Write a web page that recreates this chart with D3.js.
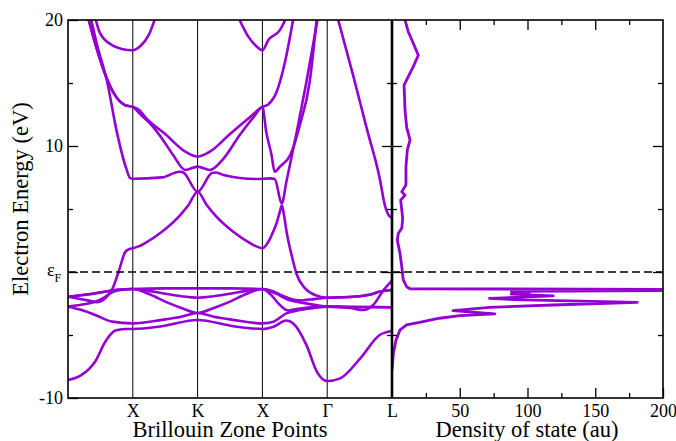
<!DOCTYPE html>
<html>
<head>
<meta charset="utf-8">
<script src="https://cdn.jsdelivr.net/npm/d3@7"></script>
<style>
  body { margin: 0; background: #fff; }
  svg { display: block; }
  svg text { font-family: "Liberation Serif", "DejaVu Serif", Times, serif !important; fill: #000; }
</style>
</head>
<body>
<svg id="chart" width="676" height="441"></svg>
<script>
// High-symmetry points along the k-path (path coordinate 0..5)
const kTicks = [1, 2, 3, 4, 5];
const kLabels = ["X", "K", "X", "Γ", "L"];
const kGrid = [1, 2, 3, 4];

// Energy axis (eV); 0 is the Fermi level
const energyMajor = [20, 10, 0, -10];
const energyMinor = [15, 5, -5];

// DOS axis
const dosMajor = [50, 100, 150, 200];
const dosMinor = [25, 75, 125, 175];

// Band energies, [k, E] pairs
const band1 = [[0,-8.57],[0.21,-8.17],[0.42,-7.1],[0.58,-5.5],[0.73,-4.65],[0.88,-4.52],[1,-4.52],[1.45,-4.3],[2,-3.81],[2.55,-4.3],[3,-4.52],[3.17,-4.34],[3.37,-3.85],[3.48,-4.1],[3.68,-5.8],[3.84,-7.9],[4,-8.65],[4.2,-8.44],[4.51,-6.85],[4.81,-5.0],[5,-4.68]];
const band2 = [[0,-2.75],[0.2,-3.0],[0.42,-3.41],[0.68,-3.94],[1,-4.08],[1.45,-3.8],[1.75,-3.55],[2,-3.25],[2.25,-3.55],[2.55,-3.8],[3,-4.08],[3.17,-3.94],[3.37,-3.28],[3.58,-3.02],[3.8,-2.85],[4,-2.75],[4.35,-2.85],[4.56,-3.02],[4.71,-2.62],[4.87,-1.43],[5,-0.68]];
const band3 = [[0,-2.75],[0.2,-2.6],[0.42,-2.36],[0.55,-2.05],[0.68,-1.61],[0.85,-1.4],[1,-1.35],[1.25,-1.75],[1.5,-2.35],[1.75,-2.85],[2,-3.25],[2.25,-2.85],[2.5,-2.35],[2.75,-1.75],[3,-1.35],[3.12,-1.75],[3.27,-2.62],[3.4,-3.05],[3.58,-2.9],[3.8,-2.78],[4,-2.75],[4.5,-2.78],[5,-2.8]];
const band4 = [[0,-1.96],[0.42,-1.69],[0.7,-1.45],[1,-1.35],[1.25,-1.5],[1.5,-1.72],[1.75,-1.92],[2,-2.04],[2.25,-1.92],[2.5,-1.72],[2.75,-1.5],[3,-1.35],[3.2,-1.7],[3.4,-2.2],[3.63,-2.45],[3.85,-2.65],[4,-2.75],[4.5,-2.78],[5,-2.8]];
const band5 = [[0,-1.96],[0.42,-1.7],[0.7,-1.45],[1,-1.35],[1.5,-1.3],[2,-1.3],[2.5,-1.3],[3,-1.35],[3.15,-1.5],[3.32,-1.9],[3.55,-2.25],[3.8,-2.15],[4,-2.04],[4.4,-1.97],[4.65,-1.8],[4.82,-1.55],[5,-1.43]];
const band6 = [[0,-1.96],[0.15,-2.1],[0.3,-2.25],[0.45,-2.4],[0.52,-2.3],[0.58,-2.05],[0.68,-1.4],[0.78,0.0],[0.885,1.6],[0.95,1.82],[1,1.88],[1.1,2.05],[1.19,2.3],[1.45,3.2],[1.71,4.4],[1.86,5.32],[2,6.37],[2.14,5.32],[2.29,4.4],[2.55,3.2],[2.81,2.3],[2.9,2.05],[3,1.88],[3.08,2.3],[3.15,3.0],[3.22,3.9],[3.27,4.8],[3.3,5.3],[3.33,4.6],[3.38,3.0],[3.45,1.35],[3.53,-0.2],[3.66,-1.3],[3.81,-1.83],[4,-2.04],[4.4,-1.97],[4.65,-1.8],[4.82,-1.55],[5,-1.43]];
const band7 = [[0.35,20.2],[0.45,18.0],[0.6,15.2],[0.75,11.2],[0.9,8.2],[0.96,7.45],[1,7.4],[1.45,7.51],[1.72,7.96],[1.78,7.9],[2,6.37],[2.22,7.85],[2.28,7.9],[2.4,7.7],[2.91,7.38],[3.12,7.43],[3.19,7.38],[3.3,5.45],[3.37,7.17],[3.53,11.1],[3.68,15.1],[3.86,20.3]];
const band8 = [[0.31,20.2],[0.45,17.6],[0.58,15.6],[0.73,14.0],[0.88,13.25],[1,13.1],[1.1,12.6],[1.3,11.6],[1.45,10.6],[1.62,9.3],[1.81,8.1],[2,8.36],[2.19,8.1],[2.4,9.0],[2.65,10.87],[2.89,12.46],[3,13.1],[3.06,11.1],[3.14,9.3],[3.19,7.96],[3.27,8.36],[3.43,9.29],[3.58,11.7],[3.73,15.1],[3.84,20.2]];
const band9 = [[0.31,20.2],[0.45,17.6],[0.58,15.6],[0.73,14.0],[0.88,13.25],[1,13.1],[1.1,12.86],[1.19,12.3],[1.5,10.95],[1.81,9.55],[2,9.15],[2.19,9.55],[2.5,10.95],[2.81,12.3],[3,13.1],[3.09,13.3],[3.22,14.3],[3.35,16.7],[3.48,20.2]];
const band10 = [[0.42,20.2],[0.49,19.0],[0.68,18.0],[0.83,17.7],[1,17.6],[1.11,17.9],[1.245,18.8],[1.35,20.2]];
const band11 = [[2.63,20.2],[2.78,18.7],[2.91,17.9],[3,17.6],[3.09,18.4],[3.27,19.2],[3.37,20.2]];
const band12 = [[4.16,20.2],[4.4,15.6],[4.61,11.4],[4.81,7.44],[4.89,5.3],[4.95,4.5],[5,4.3]];
const bands = [band1, band2, band3, band4, band5, band6, band7, band8, band9, band10, band11, band12];

// Density of states: energy (eV) and value (au)
const dosEnergy = [20.0, 19.07, 18.15, 17.2, 16.3, 15.5, 14.84, 12.86, 11.5, 10.48, 9.68, 8.36, 6.9, 6.37, 6.1, 5.7, 4.26, 3.47, 3.07, 2.54, 1.48, 0.42, -0.63, -1.17, -1.33, -1.38, -1.47, -1.53, -1.6, -1.75, -1.9, -2.09, -2.22, -2.41, -2.62, -2.8, -3.07, -3.33, -3.47, -3.67, -3.94, -4.2, -4.6, -5.4, -6.45, -7.78];
const dosValue = [9.6, 12, 15.7, 19.4, 15.7, 12, 8.9, 9.6, 10.8, 13.3, 11.3, 10.3, 10.3, 7.2, 9.6, 6.4, 7.9, 7.2, 4.7, 3.9, 5.9, 7.2, 8.3, 10.8, 13.3, 210, 210, 88, 102, 88, 119, 72, 97, 181, 119, 72, 45, 76, 50, 35, 23, 10.8, 5.9, 3, 1, 0];

const purple = "#9400d3";
const serif = "'Liberation Serif', 'DejaVu Serif', Times, serif";

const svg = d3.select("#chart");
const P = { left: 68, mid: 392, right: 663, top: 20, bottom: 398 };

const xk = d3.scaleLinear().domain([0, 5]).range([P.left, P.mid]);
const xd = d3.scaleLinear().domain([0, 200]).range([P.mid, P.right]);
const y = d3.scaleLinear().domain([-10, 20]).range([P.bottom, P.top]);

const defs = svg.append("defs");
defs.append("clipPath").attr("id", "clipBands")
  .append("rect").attr("x", P.left).attr("y", P.top)
  .attr("width", P.mid - P.left).attr("height", P.bottom - P.top);
defs.append("clipPath").attr("id", "clipDos")
  .append("rect").attr("x", P.mid).attr("y", P.top)
  .attr("width", P.right - P.mid).attr("height", P.bottom - P.top);

// vertical lines at the high-symmetry points
svg.append("g").selectAll("line").data(kGrid).join("line")
  .attr("x1", d => xk(d)).attr("x2", d => xk(d))
  .attr("y1", P.top).attr("y2", P.bottom)
  .attr("stroke", "#000").attr("stroke-width", 1);

// band structure
const bandLine = d3.line()
  .x(d => xk(d[0])).y(d => y(d[1]))
  .curve(d3.curveMonotoneX);
svg.append("g").attr("clip-path", "url(#clipBands)")
  .selectAll("path").data(bands).join("path")
  .attr("d", bandLine)
  .attr("fill", "none").attr("stroke", purple)
  .attr("stroke-width", 2.6).attr("stroke-linejoin", "round");

// density of states
const dosPts = dosEnergy.map((e, i) => ({ e, v: dosValue[i] }));
svg.append("path").attr("clip-path", "url(#clipDos)")
  .datum(dosPts)
  .attr("d", d3.line().x(d => xd(d.v)).y(d => y(d.e)))
  .attr("fill", "none").attr("stroke", purple)
  .attr("stroke-width", 2.8).attr("stroke-linejoin", "round");

// Fermi level
svg.append("line")
  .attr("x1", P.left).attr("x2", P.right)
  .attr("y1", y(0)).attr("y2", y(0))
  .attr("stroke", "#000").attr("stroke-width", 1.6)
  .attr("stroke-dasharray", "8,4");

// frames
svg.append("rect").attr("x", P.left).attr("y", P.top)
  .attr("width", P.right - P.left).attr("height", P.bottom - P.top)
  .attr("fill", "none").attr("stroke", "#000").attr("stroke-width", 1.6);
svg.append("line").attr("x1", P.mid).attr("x2", P.mid)
  .attr("y1", P.top).attr("y2", P.bottom)
  .attr("stroke", "#000").attr("stroke-width", 2.6);

function styleAxis(g, size) {
  g.attr("font-family", null).attr("font-size", null);
  g.select(".domain").remove();
  g.selectAll(".tick line").attr("stroke", "#000").attr("stroke-width", 1.3);
  g.selectAll("text").attr("font-size", size).style("font-family", serif).attr("fill", "#000");
}

// left energy axis
svg.append("g").attr("transform", `translate(${P.left},0)`)
  .call(d3.axisLeft(y).tickValues(energyMajor).tickSize(-10).tickPadding(5)
    .tickFormat(d => d === 0 ? "" : String(d)))
  .call(g => styleAxis(g, 18));
svg.append("g").attr("transform", `translate(${P.left},0)`)
  .call(d3.axisLeft(y).tickValues(energyMinor).tickSize(-5).tickFormat(""))
  .call(g => styleAxis(g, 18));

// Fermi label
const ef = svg.append("text").attr("x", 47).attr("y", 275.5)
  .attr("font-size", 18).style("font-family", serif);
ef.append("tspan").text("ε");
ef.append("tspan").attr("font-size", 12).attr("dy", 6.5).text("F");

// shared boundary: ticks into both panels
svg.append("g").attr("transform", `translate(${P.mid},0)`)
  .call(d3.axisRight(y).tickValues([10, 0]).tickSize(-10).tickFormat(""))
  .call(g => styleAxis(g, 18));
svg.append("g").attr("transform", `translate(${P.mid},0)`)
  .call(d3.axisRight(y).tickValues(energyMinor).tickSize(-5).tickFormat(""))
  .call(g => styleAxis(g, 18));
svg.append("g").attr("transform", `translate(${P.mid},0)`)
  .call(d3.axisLeft(y).tickValues([10, 0]).tickSize(-10).tickFormat(""))
  .call(g => styleAxis(g, 18));
svg.append("g").attr("transform", `translate(${P.mid},0)`)
  .call(d3.axisLeft(y).tickValues(energyMinor).tickSize(-5).tickFormat(""))
  .call(g => styleAxis(g, 18));

// right DOS axis
svg.append("g").attr("transform", `translate(${P.right},0)`)
  .call(d3.axisRight(y).tickValues([10, 0]).tickSize(-10).tickFormat(""))
  .call(g => styleAxis(g, 18));
svg.append("g").attr("transform", `translate(${P.right},0)`)
  .call(d3.axisRight(y).tickValues(energyMinor).tickSize(-5).tickFormat(""))
  .call(g => styleAxis(g, 18));

// k-path labels
svg.append("g").attr("transform", `translate(0,${P.bottom})`)
  .call(d3.axisBottom(xk).tickValues(kTicks).tickSize(0).tickPadding(6)
    .tickFormat((d, i) => kLabels[i]))
  .call(g => styleAxis(g, 18));

// DOS bottom and top axes
svg.append("g").attr("transform", `translate(0,${P.bottom})`)
  .call(d3.axisBottom(xd).tickValues(dosMajor).tickSize(-10).tickPadding(6)
    .tickFormat(d => String(d)))
  .call(g => styleAxis(g, 18));
svg.append("g").attr("transform", `translate(0,${P.bottom})`)
  .call(d3.axisBottom(xd).tickValues(dosMinor).tickSize(-5).tickFormat(""))
  .call(g => styleAxis(g, 18));
svg.append("g").attr("transform", `translate(0,${P.top})`)
  .call(d3.axisTop(xd).tickValues(dosMajor.slice(0, 3)).tickSize(-10).tickFormat(""))
  .call(g => styleAxis(g, 18));
svg.append("g").attr("transform", `translate(0,${P.top})`)
  .call(d3.axisTop(xd).tickValues(dosMinor).tickSize(-5).tickFormat(""))
  .call(g => styleAxis(g, 18));

// axis titles
const titles = [
  { text: "Brillouin Zone Points", tr: "translate(230,437)" },
  { text: "Density of state (au)", tr: "translate(527,437)" },
  { text: "Electron Energy (eV)", tr: "translate(28,199) rotate(-90)" }
];
svg.append("g").selectAll("text").data(titles).join("text")
  .attr("transform", d => d.tr)
  .attr("text-anchor", "middle").attr("font-size", 22.5)
  .style("font-family", serif)
  .text(d => d.text);
</script>
</body>
</html>
